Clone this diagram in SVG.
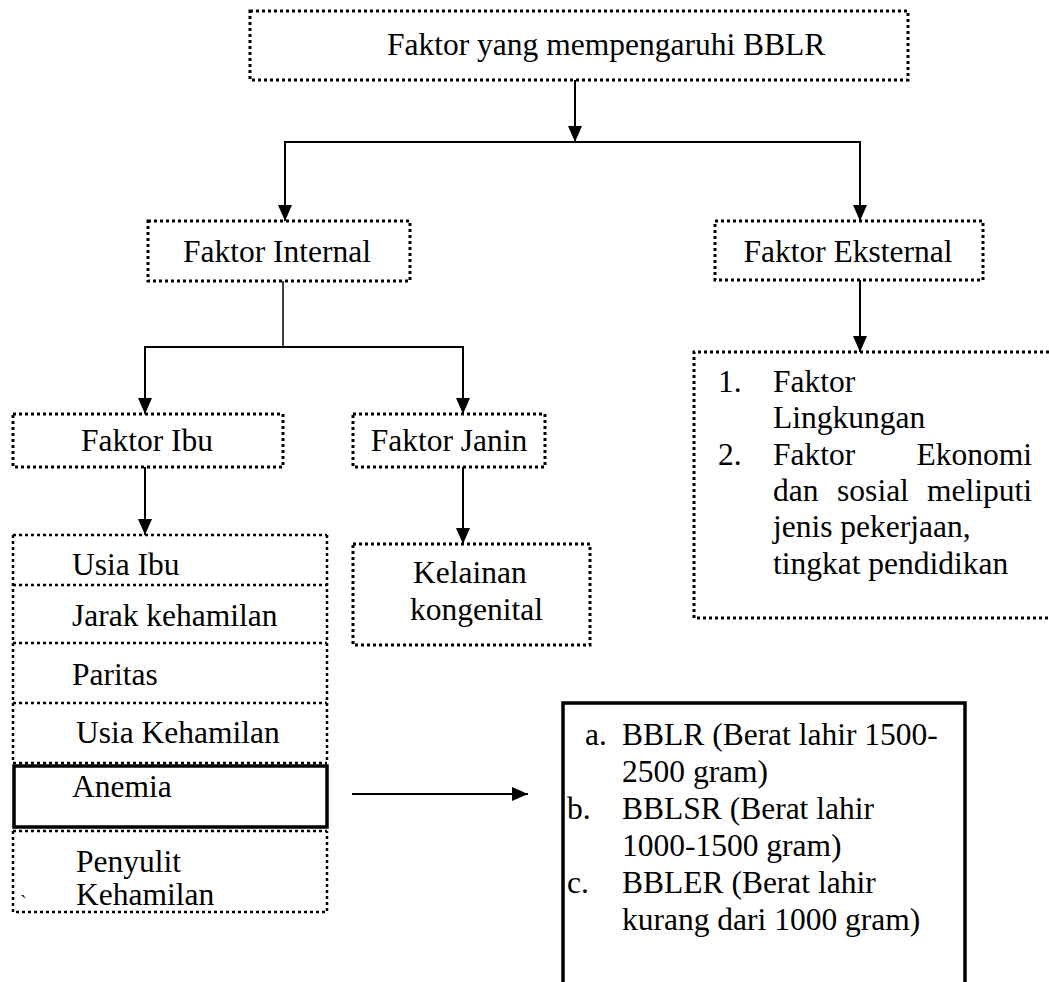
<svg xmlns="http://www.w3.org/2000/svg" width="1049" height="982" viewBox="0 0 1049 982">
<style>
text{font-family:"Liberation Serif","Times New Roman",serif;font-size:31.5px;fill:#000}
.dot{fill:none;stroke:#000;stroke-width:3;stroke-dasharray:3 3}
.dot2{fill:none;stroke:#000;stroke-width:2.5;stroke-dasharray:3 3}
.solid{fill:none;stroke:#000;stroke-width:3.5}
.conn{fill:none;stroke:#000;stroke-width:2}
.mid{text-anchor:middle}
.end{text-anchor:end}
</style>
<defs>
<marker id="ah" markerUnits="userSpaceOnUse" markerWidth="16" markerHeight="14" refX="16" refY="7" orient="auto">
<path d="M0,0 L16,7 L0,14 z" fill="#000"/>
</marker>
</defs>
<rect width="1049" height="982" fill="#fff"/>

<g id="connectors">
<line class="conn" x1="575" y1="80" x2="575" y2="142" marker-end="url(#ah)"/>
<line class="conn" x1="285" y1="142" x2="860" y2="142"/>
<line class="conn" x1="285" y1="141" x2="285" y2="221" marker-end="url(#ah)"/>
<line class="conn" x1="860" y1="141" x2="860" y2="221" marker-end="url(#ah)"/>
<line class="conn" x1="283" y1="281" x2="283" y2="347" style="stroke-width:1.5"/>
<line class="conn" x1="145" y1="347" x2="463" y2="347"/>
<line class="conn" x1="145" y1="346" x2="145" y2="414" marker-end="url(#ah)"/>
<line class="conn" x1="463" y1="346" x2="463" y2="414" marker-end="url(#ah)"/>
<line class="conn" x1="145" y1="467" x2="145" y2="535" marker-end="url(#ah)"/>
<line class="conn" x1="463" y1="467" x2="463" y2="544" marker-end="url(#ah)"/>
<line class="conn" x1="860" y1="280" x2="860" y2="352" marker-end="url(#ah)"/>
<line class="conn" x1="352" y1="794" x2="528" y2="794" marker-end="url(#ah)"/>
</g>

<g id="node-top">
<rect class="dot" x="250" y="11" width="658" height="69"/>
<text x="387" y="55">Faktor yang mempengaruhi BBLR</text>
</g>

<g id="node-internal">
<rect class="dot" x="148" y="221" width="262" height="60"/>
<text class="mid" x="277" y="262">Faktor Internal</text>
</g>

<g id="node-eksternal">
<rect class="dot" x="715" y="221" width="268" height="59"/>
<text class="mid" x="848" y="262">Faktor Eksternal</text>
</g>

<g id="node-eksternal-list">
<path class="dot" d="M1049,352 H694 V618 H1049"/>
<text x="718" y="392">1.</text>
<text x="773" y="392">Faktor</text>
<text x="773" y="428">Lingkungan</text>
<text x="718" y="465">2.</text>
<text x="773" y="465">Faktor</text>
<text class="end" x="1032" y="465">Ekonomi</text>
<text x="773" y="501">dan</text>
<text class="mid" x="873" y="501">sosial</text>
<text class="end" x="1032" y="501">meliputi</text>
<text x="773" y="537">jenis pekerjaan,</text>
<text x="773" y="574">tingkat pendidikan</text>
</g>

<g id="node-ibu">
<rect class="dot" x="13" y="414" width="270" height="53"/>
<text class="mid" x="147" y="451">Faktor Ibu</text>
</g>

<g id="node-janin">
<rect class="dot" x="353" y="414" width="192" height="53"/>
<text class="mid" x="449" y="451">Faktor Janin</text>
</g>

<g id="node-kelainan">
<rect class="dot" x="353" y="544" width="237" height="101"/>
<text x="413" y="583">Kelainan</text>
<text x="410" y="620">kongenital</text>
</g>

<g id="node-stack-frame">
<path class="dot2" d="M13,535 V763 M327,535 V763 M13,535 H327"/>
</g>
<g id="node-usia-ibu">
<text x="72" y="575">Usia Ibu</text>
</g>
<g id="node-jarak">
<path class="dot2" d="M13,585 H327"/>
<text x="72" y="626">Jarak kehamilan</text>
</g>
<g id="node-paritas">
<path class="dot2" d="M13,643 H327"/>
<text x="72" y="685">Paritas</text>
</g>
<g id="node-usia-kehamilan">
<path class="dot2" d="M13,703 H327 M13,763 H327"/>
<text x="76" y="743">Usia Kehamilan</text>
</g>
<g id="node-anemia">
<rect class="solid" x="14" y="766" width="313" height="61"/>
<text x="72" y="797">Anemia</text>
</g>
<g id="node-penyulit">
<path class="dot2" d="M13,831 H327 M13,831 V912 H327 V831"/>
<text x="76" y="872">Penyulit</text>
<text x="76" y="905">Kehamilan</text>
<text x="20" y="910" style="font-size:20px">`</text>
</g>

<g id="node-bblr">
<path class="solid" d="M563,982 V703 H965 V982"/>
<text x="585" y="745">a.</text>
<text x="622" y="745">BBLR (Berat lahir 1500-</text>
<text x="622" y="782">2500 gram)</text>
<text x="567" y="819">b.</text>
<text x="622" y="819">BBLSR (Berat lahir</text>
<text x="622" y="856">1000-1500 gram)</text>
<text x="567" y="893">c.</text>
<text x="622" y="893">BBLER (Berat lahir</text>
<text x="622" y="930">kurang dari 1000 gram)</text>
</g>
</svg>
